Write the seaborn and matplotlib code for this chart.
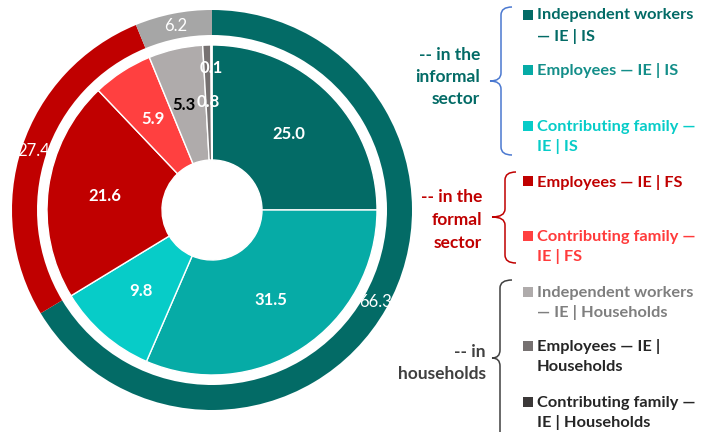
import seaborn as sns
import matplotlib.pyplot as plt
from matplotlib.path import Path
from matplotlib.patches import PathPatch
import numpy as np

# outer ring: sector totals (%)
sector_names = ['-- in the\ninformal\nsector', '-- in the\nformal\nsector', '-- in\nhouseholds']
sector_values = [66.3, 27.4, 6.2]
sector_colors = ['#036B66', '#C00000', '#A6A6A6']
sector_text_colors = ['#036B66', '#C00000', '#404040']

# inner pie: employment status by sector (%)
status_names = ['Independent workers\n— IE | IS', 'Employees — IE | IS', 'Contributing family —\nIE | IS',
                'Employees — IE | FS', 'Contributing family —\nIE | FS',
                'Independent workers\n— IE | Households', 'Employees — IE |\nHouseholds',
                'Contributing family —\nIE | Households']
status_values = [25.0, 31.5, 9.8, 21.6, 5.9, 5.3, 0.8, 0.1]
status_colors = ['#036B66', '#06ABA6', '#07CCC8', '#C00000', '#FF4040', '#AFABAB', '#767171', '#3B3838']
status_text_colors = ['#036B66', '#138E89', '#07CCC8', '#C00000', '#FF3B3B', '#7F7F7F', '#262626', '#262626']

sns.set_theme(style='white')
plt.rcParams['font.family'] = ['Lato', 'DejaVu Sans']

W, H = 721, 432
fig = plt.figure(figsize=(W / 100, H / 100), dpi=100)

# pie axes: centre (212, 210) px, radius 200 px
cx, cy, R = 212, 210, 200
ax = fig.add_axes([(cx - R) / W, (H - cy - R) / H, 2 * R / W, 2 * R / H])

outer, _ = ax.pie(sector_values, radius=1.0, colors=sector_colors, startangle=90, counterclock=False,
                  wedgeprops=dict(width=0.125, linewidth=0))
inner, _ = ax.pie(status_values, radius=0.825, colors=status_colors, startangle=90, counterclock=False,
                  wedgeprops=dict(width=0.575, edgecolor='white', linewidth=1))
ax.set_xlim(-1, 1)
ax.set_ylim(-1, 1)
ax.set_aspect('auto')
ax.axis('off')

for w, v in zip(outer, sector_values):
    a = np.deg2rad((w.theta1 + w.theta2) / 2)
    ax.text(0.94 * np.cos(a), 0.94 * np.sin(a), f'{v:.1f}', color='white', fontsize=12,
            ha='center', va='center')

for i, (w, v) in enumerate(zip(inner, status_values)):
    a = np.deg2rad((w.theta1 + w.theta2) / 2)
    r = 0.71 if i == 7 else 0.54
    dx = -0.02 if i == 5 else 0
    ax.text(r * np.cos(a) + dx, r * np.sin(a), f'{v:.1f}', color='black' if i == 5 else 'white',
            fontsize=12, fontweight='bold', ha='center', va='center')

# overlay in pixel coordinates for legend, group labels and braces
ov = fig.add_axes([0, 0, 1, 1])
ov.set_xlim(0, W)
ov.set_ylim(H, 0)
ov.axis('off')


def brace(x, y0, y1, ym, tip, right, color):
    r = 8
    verts = [(right, y0), (x, y0), (x, y0 + r), (x, ym - r), (x, ym), (tip, ym),
             (x, ym), (x, ym + r), (x, y1 - r), (x, y1), (right, y1)]
    codes = [Path.MOVETO, Path.CURVE3, Path.CURVE3, Path.LINETO, Path.CURVE3, Path.CURVE3,
             Path.CURVE3, Path.CURVE3, Path.LINETO, Path.CURVE3, Path.CURVE3]
    ov.add_patch(PathPatch(Path(verts, codes), fill=False, edgecolor=color, linewidth=1.1))


brace(501, 7, 155, 81, 490, 512, '#4A78D0')
brace(505, 172, 263, 217, 492, 516, '#C00000')
brace(500, 280, 445, 358, 492, 512, '#404040')

group_pos = [(480, 77), (482, 220), (486, 363)]
for name, c, (x, y) in zip(sector_names, sector_text_colors, group_pos):
    ov.text(x, y, name, color=c, fontsize=12.5, fontweight='bold', ha='right', va='center',
            multialignment='right', linespacing=1.5)

legend_y = [15, 70, 126, 181, 236, 292, 346, 402]
for name, c, tc, y in zip(status_names, status_colors, status_text_colors, legend_y):
    ov.scatter([528], [y], marker='s', s=42, color=c, linewidths=0)
    ov.text(537, y - 6.5, name, color=tc, fontsize=11.8, fontweight='bold', ha='left', va='top',
            linespacing=1.5)

fig.savefig('out.png', dpi=100)
